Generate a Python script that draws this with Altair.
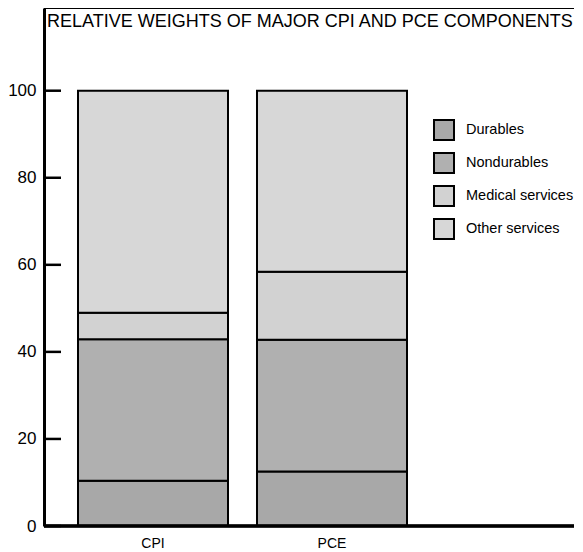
import altair as alt
import pandas as pd

# ---- data ----
categories = ["CPI", "PCE"]
components = ["Durables", "Nondurables", "Medical services", "Other services"]
cpi_weights = [10.4, 32.5, 6.1, 51.0]
pce_weights = [12.5, 30.3, 15.6, 41.6]
y_ticks = [0, 20, 40, 60, 80, 100]
title_text = "RELATIVE WEIGHTS OF MAJOR CPI AND PCE COMPONENTS"
fills = ["#a8a8a8", "#b0b0b0", "#d2d2d2", "#d7d7d7"]

rows = []
for cat, vals in zip(categories, [cpi_weights, pce_weights]):
    for i, (comp, v) in enumerate(zip(components, vals)):
        rows.append({"index": cat, "component": comp, "weight": v, "ord": i})
df = pd.DataFrame(rows)
ticks_df = pd.DataFrame({"v": y_ticks})

W, H = 530, 518
FONT = "Liberation Sans"

yscale = alt.Scale(domain=[0, 119], nice=False, zero=True)

bars = alt.Chart(df).mark_bar(stroke="black", strokeWidth=2).encode(
    x=alt.X("index:N", sort=categories,
            scale=alt.Scale(domain=categories, range=[34, 363], paddingInner=0.162, paddingOuter=0),
            axis=alt.Axis(title=None, domain=False, ticks=False, labelAngle=0,
                          labelFont=FONT, labelFontSize=14, labelColor="black",
                          labelPadding=10)),
    y=alt.Y("weight:Q", stack="zero", scale=yscale,
            axis=alt.Axis(title=None, values=y_ticks, tickSize=0, grid=False,
                          domainColor="black", domainWidth=3,
                          labelFont=FONT, labelFontSize=17, labelColor="black",
                          labelPadding=8)),
    color=alt.Color("component:N",
                    scale=alt.Scale(domain=components, range=fills),
                    legend=alt.Legend(title=None, orient="none", legendX=389, legendY=111,
                                      symbolType="square", symbolSize=400,
                                      symbolStrokeColor="black", symbolStrokeWidth=2,
                                      symbolOpacity=1,
                                      labelFont=FONT, labelFontSize=14.5, labelColor="black",
                                      labelOffset=11, rowPadding=5, padding=0)),
    order=alt.Order("ord:Q", sort="ascending"),
)

tick_rules = alt.Chart(ticks_df).mark_rule(color="black", strokeWidth=2.5).encode(
    y=alt.Y("v:Q", scale=yscale),
    x=alt.value(0),
    x2=alt.value(17),
)

top_line = alt.Chart(ticks_df).mark_rule(color="black", strokeWidth=2).encode(
    y=alt.value(0), x=alt.value(0), x2=alt.value(W)
)
bottom_line = alt.Chart(ticks_df).mark_rule(color="black", strokeWidth=2.5).encode(
    y=alt.value(H), x=alt.value(0), x2=alt.value(W)
)

title = alt.Chart(pd.DataFrame({"t": [title_text]})).mark_text(
    align="left", baseline="alphabetic", font=FONT, fontSize=18, color="black"
).encode(text="t:N", x=alt.value(3), y=alt.value(19))

chart = alt.layer(bars, tick_rules, top_line, bottom_line, title).properties(
    width=W, height=H,
    autosize=alt.AutoSizeParams(type="none"),
    padding={"left": 36, "top": 0, "right": 0, "bottom": 26},
).configure_view(stroke=None).configure(background="white")

chart.save("out.html", embed_options={"renderer": "svg", "actions": False})
